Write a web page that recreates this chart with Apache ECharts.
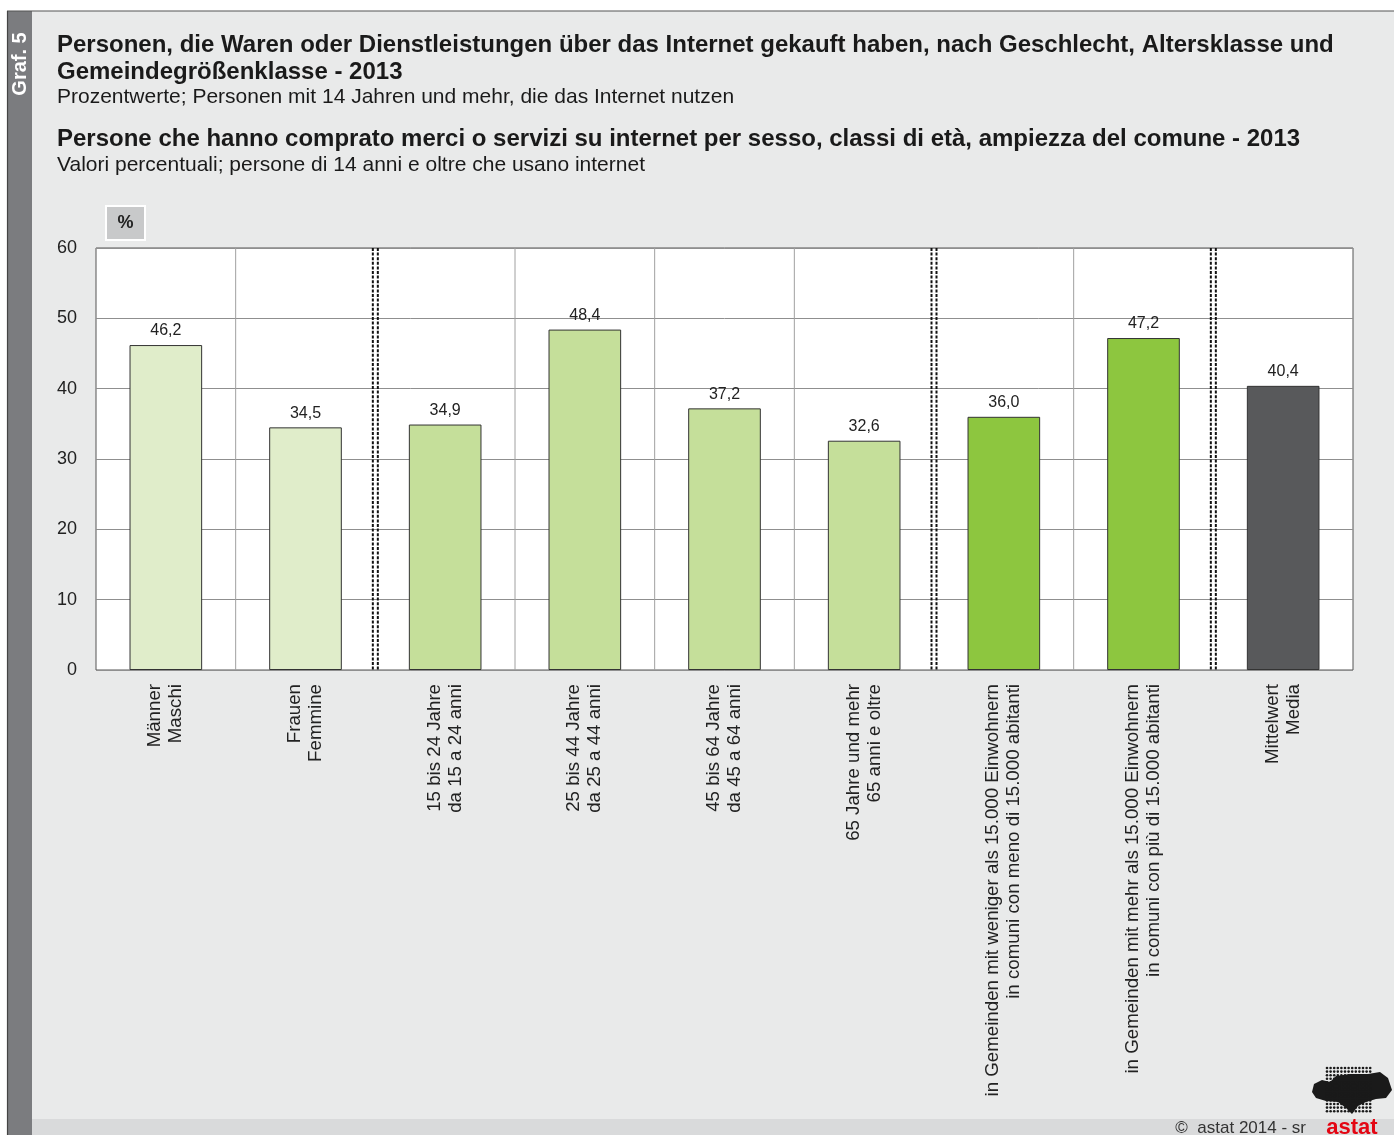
<!DOCTYPE html>
<html>
<head>
<meta charset="utf-8">
<script src="https://cdn.jsdelivr.net/npm/echarts@6/dist/echarts.min.js"></script>
<style>
html,body{margin:0;padding:0;background:#fff;}
#c{width:1394px;height:1135px;}
</style>
</head>
<body>
<div id="c"></div>
<script>
// ---- data ----
var categories = [
  "Männer\nMaschi",
  "Frauen\nFemmine",
  "15 bis 24 Jahre\nda 15 a 24 anni",
  "25 bis 44 Jahre\nda 25 a 44 anni",
  "45 bis 64 Jahre\nda 45 a 64 anni",
  "65 Jahre und mehr\n65 anni e oltre",
  "in Gemeinden mit weniger als 15.000 Einwohnern\nin comuni con meno di 15.000 abitanti",
  "in Gemeinden mit mehr als 15.000 Einwohnern\nin comuni con più di 15.000 abitanti",
  "Mittelwert\nMedia"
];
var values = [46.2, 34.5, 34.9, 48.4, 37.2, 32.6, 36.0, 47.2, 40.4];
var barColors = ["#e0edca", "#e0edca", "#c5df9a", "#c5df9a", "#c5df9a", "#c5df9a", "#8dc63f", "#8dc63f", "#58595b"];
var yTicks = [0, 10, 20, 30, 40, 50, 60];
var groupSeparators = [2, 6, 8];      // double dotted lines between groups (category boundaries)
var plainSeparators = [1, 3, 4, 5, 7]; // thin grey lines between categories

var titleDe = "Personen, die Waren oder Dienstleistungen über das Internet gekauft haben, nach Geschlecht, Altersklasse und\nGemeindegrößenklasse - 2013";
var subDe = "Prozentwerte; Personen mit 14 Jahren und mehr, die das Internet nutzen";
var titleIt = "Persone che hanno comprato merci o servizi su internet per sesso, classi di età, ampiezza del comune - 2013";
var subIt = "Valori percentuali; persone di 14 anni e oltre che usano internet";

var FONT = "'Liberation Sans', Arial, Helvetica, sans-serif";

var chart = echarts.init(document.getElementById('c'));

var sepData = plainSeparators.map(function (x) { return [x, 0]; })
  .concat(groupSeparators.map(function (x) { return [x, 1]; }));

// small dot grid for the logo (decoration)
var logoDots = [];
for (var r = 0; r < 13; r++) {
  for (var c = 0; c < 13; c++) {
    logoDots.push({ type: 'circle', shape: { cx: 1327 + c * 3.6, cy: 1068 + r * 3.6, r: 1.3 }, style: { fill: '#1a1a1a' } });
  }
}

var option = {
  backgroundColor: '#ffffff',
  animation: false,
  textStyle: { fontFamily: FONT },
  graphic: [
    { type: 'rect', shape: { x: 7, y: 11, width: 1387, height: 1124 }, style: { fill: '#e9eaea' }, z: -10 },
    { type: 'rect', shape: { x: 32, y: 1119, width: 1362, height: 16 }, style: { fill: '#d9dadb' }, z: -9 },
    { type: 'rect', shape: { x: 8, y: 11, width: 24, height: 1124 }, style: { fill: '#7b7c7f' }, z: -8 },
    { type: 'line', shape: { x1: 7, y1: 11, x2: 1394, y2: 11 }, style: { stroke: '#555', lineWidth: 1.2 }, z: -7 },
    { type: 'line', shape: { x1: 7.5, y1: 11, x2: 7.5, y2: 1135 }, style: { stroke: '#444', lineWidth: 1.2 }, z: -7 },
    { type: 'text', x: 20, y: 64, rotation: Math.PI / 2,
      style: { text: 'Graf. 5', fill: '#ffffff', font: 'bold 20px ' + FONT, align: 'center', verticalAlign: 'middle' } },
    { type: 'rect', shape: { x: 106, y: 206, width: 39, height: 34 }, style: { fill: '#c8c9ca', stroke: '#ffffff', lineWidth: 2 } },
    { type: 'text', x: 125.5, y: 223,
      style: { text: '%', fill: '#222', font: 'bold 18px ' + FONT, align: 'center', verticalAlign: 'middle' } },
    { type: 'text', x: 1306, y: 1128,
      style: { text: '©  astat 2014 - sr', fill: '#333', font: '17px ' + FONT, align: 'right', verticalAlign: 'middle' } },
    { type: 'text', x: 1352, y: 1128,
      style: { text: 'astat', fill: '#e30613', font: 'bold 22px ' + FONT, align: 'center', verticalAlign: 'middle' } },
    { type: 'polygon',
      shape: { points: [[1314, 1084], [1322, 1080], [1330, 1082], [1336, 1076], [1350, 1074], [1368, 1074], [1380, 1072], [1388, 1078], [1392, 1090], [1386, 1098], [1376, 1099], [1366, 1102], [1358, 1106], [1352, 1114], [1346, 1108], [1338, 1102], [1326, 1101], [1316, 1098], [1312, 1092]] },
      style: { fill: '#1a1a1a' } },
    { type: 'group', children: logoDots }
  ],
  title: [
    { text: titleDe, left: 57, top: 31.5, padding: 0,
      textStyle: { fontFamily: FONT, fontSize: 24, fontWeight: 'bold', color: '#1a1a1a', lineHeight: 27 } },
    { text: subDe, left: 57, top: 86, padding: 0,
      textStyle: { fontFamily: FONT, fontSize: 21, fontWeight: 'normal', color: '#1a1a1a', lineHeight: 22 } },
    { text: titleIt, left: 57, top: 125.5, padding: 0,
      textStyle: { fontFamily: FONT, fontSize: 24, fontWeight: 'bold', color: '#1a1a1a', lineHeight: 27 } },
    { text: subIt, left: 57, top: 154, padding: 0,
      textStyle: { fontFamily: FONT, fontSize: 21, fontWeight: 'normal', color: '#1a1a1a', lineHeight: 22 } }
  ],
  grid: {
    left: 96, right: 41, top: 248, bottom: 465,
    show: true, backgroundColor: '#ffffff', borderColor: '#555555', borderWidth: 1
  },
  xAxis: [
    {
      type: 'category', data: categories,
      axisLine: { show: false }, axisTick: { show: false },
      splitLine: { show: false },
      axisLabel: {
        rotate: 90, margin: 14, fontSize: 18.7, lineHeight: 21, color: '#222',
        fontFamily: FONT, interval: 0
      }
    },
    { type: 'value', min: 0, max: 9, show: false }
  ],
  yAxis: {
    type: 'value', min: yTicks[0], max: yTicks[yTicks.length - 1], interval: 10,
    axisLine: { show: false }, axisTick: { show: false },
    axisLabel: { fontSize: 18, color: '#222', margin: 19, fontFamily: FONT },
    splitLine: { show: true, lineStyle: { color: '#8f8f8f', width: 1 } }
  },
  series: [
    {
      type: 'custom', xAxisIndex: 1, yAxisIndex: 0, z: 1, silent: true,
      data: sepData,
      renderItem: function (params, api) {
        var x = api.value(0), kind = api.value(1);
        var top = api.coord([x, 60]), bot = api.coord([x, 0]);
        if (kind === 0) {
          return { type: 'line', shape: { x1: top[0], y1: top[1], x2: bot[0], y2: bot[1] },
            style: { stroke: '#a0a0a0', lineWidth: 1 } };
        }
        var st = { stroke: '#111', lineWidth: 2, lineDash: [3, 1.6] };
        return { type: 'group', children: [
          { type: 'line', shape: { x1: top[0] - 2.5, y1: top[1], x2: bot[0] - 2.5, y2: bot[1] }, style: st },
          { type: 'line', shape: { x1: top[0] + 2.5, y1: top[1], x2: bot[0] + 2.5, y2: bot[1] }, style: st }
        ] };
      }
    },
    {
      type: 'bar', xAxisIndex: 0, yAxisIndex: 0, z: 3,
      barWidth: '52%',
      data: values.map(function (v, i) {
        return { value: v, itemStyle: { color: barColors[i] } };
      }),
      itemStyle: { borderColor: '#333', borderWidth: 1 },
      label: {
        show: true, position: 'top', distance: 6, fontSize: 16, color: '#222', fontFamily: FONT,
        formatter: function (p) { return p.value.toFixed(1).replace('.', ','); }
      }
    }
  ]
};
chart.setOption(option);
</script>
</body>
</html>
